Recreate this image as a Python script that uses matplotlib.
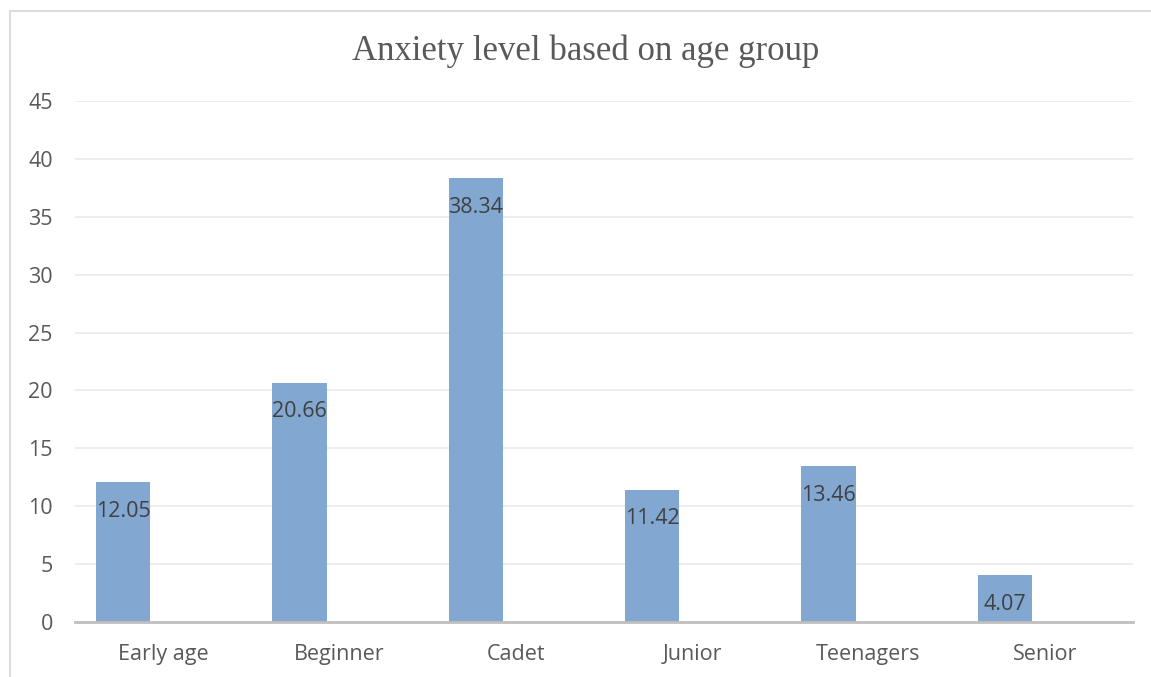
import matplotlib
matplotlib.use("Agg")
import matplotlib.pyplot as plt
from matplotlib.patches import Rectangle

categories = ["Early age", "Beginner", "Cadet", "Junior", "Teenagers", "Senior"]
values = [12.05, 20.66, 38.34, 11.42, 13.46, 4.07]
value_labels = ["12.05", "20.66", "38.34", "11.42", "13.46", "4.07"]
yticks = [0, 5, 10, 15, 20, 25, 30, 35, 40, 45]
title = "Anxiety level based on age group"

W, H = 1151, 677
fig = plt.figure(figsize=(W / 100, H / 100), dpi=100)
fig.patch.set_facecolor("white")

# outer chart border
fig.patches.append(Rectangle((10 / W, -0.05), 1.2, (H - 11) / H + 0.05,
                             transform=fig.transFigure, fill=False,
                             edgecolor="#d9d9d9", linewidth=1.3))

ax = fig.add_axes([75 / W, 1 - 622 / H, (1133 - 75) / W, (622 - 101) / H])
ax.set_facecolor("none")

offset = -0.227
width = 0.307
xs = [i + offset for i in range(len(categories))]
ax.bar(xs, values, width=width, color="#82a7d1", zorder=3)

for x, v, lab in zip(xs, values, value_labels):
    ax.annotate(lab, (x, v), xytext=(0, -21), textcoords="offset points",
                ha="center", va="center", fontsize=15.5, color="#404040",
                family="Open Sans", zorder=4)

ax.set_xlim(-0.5, len(categories) - 0.5)
ax.set_ylim(0, 45)
ax.set_yticks(yticks)
ax.set_yticklabels([str(t) for t in yticks], family="Open Sans", fontsize=15.5, color="#595959")
ax.set_xticks(range(len(categories)))
ax.set_xticklabels(categories, family="Open Sans", fontsize=15.5, color="#595959")
ax.tick_params(axis="both", length=0)
ax.tick_params(axis="y", pad=16)
ax.tick_params(axis="x", pad=16)

ax.yaxis.grid(True, color="#ececec", linewidth=1.3, zorder=0)
ax.set_axisbelow(True)
for s in ["top", "right", "left"]:
    ax.spines[s].set_visible(False)
ax.spines["bottom"].set_color("#bfbfbf")
ax.spines["bottom"].set_linewidth(2)
ax.spines["bottom"].set_zorder(5)

fig.text(586 / W, 1 - 51 / H, title, ha="center", va="center",
         family="Liberation Serif", fontsize=25, color="#595959")

fig.savefig("out.png", dpi=100)
